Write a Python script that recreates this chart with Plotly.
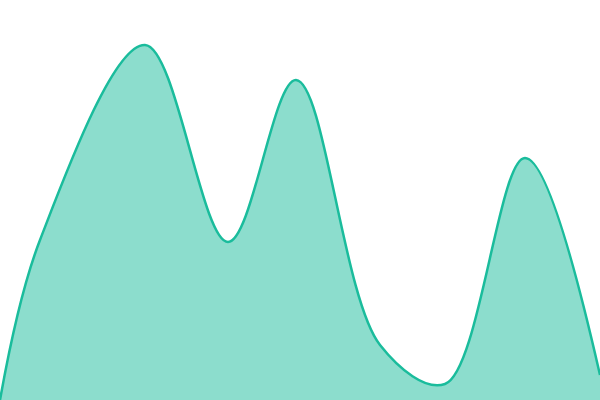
import plotly.graph_objects as go

# sample positions and values (0-600 across, 0-400 up)
x_vals = [0, 40, 145, 228, 296, 380, 445, 525, 600]
y_vals = [0, 160, 355, 158, 320, 55, 16, 242, 25]

fig = go.Figure()
fig.add_trace(go.Scatter(
    x=x_vals, y=y_vals, mode='lines',
    line=dict(color='#1abc9c', width=2.5, shape='spline', smoothing=1),
    fill='tozeroy', fillcolor='rgba(26,188,156,0.5)',
    hoverinfo='skip'))
fig.update_layout(
    width=600, height=400,
    margin=dict(l=0, r=0, t=0, b=0),
    paper_bgcolor='white', plot_bgcolor='white',
    showlegend=False)
fig.update_xaxes(visible=False, range=[0, 600])
fig.update_yaxes(visible=False, range=[0, 400])
fig.write_html(
    "out.html", config={'displayModeBar': False},
    post_script="document.body.style.margin='0';"
                "document.body.style.overflow='hidden';")
